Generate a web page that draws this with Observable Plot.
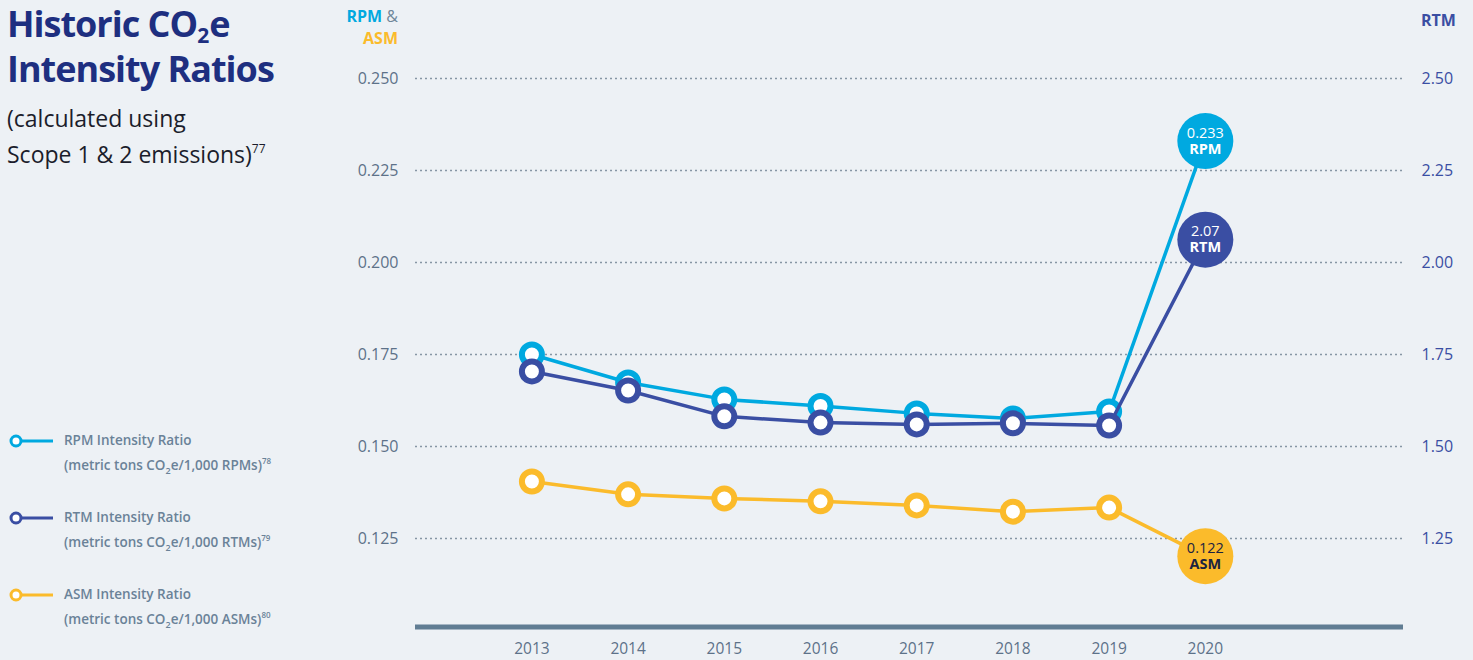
<!DOCTYPE html>
<html><head><meta charset="utf-8">
<script src="https://cdn.jsdelivr.net/npm/d3@7"></script>
<script src="https://cdn.jsdelivr.net/npm/@observablehq/plot@0.6"></script>
<style>
body{margin:0;background:#edf1f5;font-family:"Open Sans",sans-serif;}
#wrap{position:relative;width:1473px;height:660px;overflow:hidden;background:#edf1f5;}
#chart{position:absolute;left:0;top:0;}
.abs{position:absolute;}
#title{left:7px;top:1px;font-size:36px;font-weight:700;color:#1e2f80;line-height:45px;letter-spacing:-1px;white-space:nowrap;}
#title sub{font-size:21px;vertical-align:-6px;line-height:0;letter-spacing:0;}
#subtitle{left:7px;top:100px;font-size:23px;line-height:36px;color:#1b1d2b;white-space:nowrap;}
#subtitle sup{font-size:12px;vertical-align:10px;line-height:0;}
.leg{left:8px;font-size:13.5px;font-weight:600;color:#6a8298;line-height:25px;white-space:nowrap;}
.leg svg{position:absolute;left:0;top:3px;}
.leg .t{margin-left:56px;}
.leg sub{font-size:9px;vertical-align:-4px;line-height:0;}
.leg sup{font-size:8px;vertical-align:6px;line-height:0;}
#hdrL{right:1075px;top:5px;font-size:16px;font-weight:700;line-height:22px;text-align:right;}
#hdrR{left:1421px;top:9px;font-size:16px;font-weight:700;color:#3a4ea3;}
</style></head><body>
<div id="wrap">
<div id="chart"></div>
<div id="title" class="abs">Historic CO<sub>2</sub>e<br>Intensity Ratios</div>
<div id="subtitle" class="abs">(calculated using<br>Scope 1 &amp; 2 emissions)<sup>77</sup></div>
<div id="legend"></div>
<div id="hdrL" class="abs"><span style="color:#00a9e0">RPM</span> <span style="color:#6f8699;font-weight:400">&amp;</span><br><span style="color:#fbbb2b">ASM</span></div>
<div id="hdrR" class="abs">RTM</div>
</div>
<script>
const years = [2013, 2014, 2015, 2016, 2017, 2018, 2019, 2020];
const rpm = [0.1750, 0.1674, 0.1628, 0.1610, 0.1590, 0.1576, 0.1595, 0.2330];
const rtm = [1.704, 1.652, 1.582, 1.565, 1.560, 1.563, 1.557, 2.062];
const asm = [0.1405, 0.1370, 0.1359, 0.1351, 0.1340, 0.1323, 0.1334, 0.1202];
const endLabels = ["0.233", "2.07", "0.122"];
const seriesNames = ["RPM", "RTM", "ASM"];
const seriesColors = ["#00a9e0", "#3a4ea3", "#fbbb2b"];
const endTextColors = ["#ffffff", "#ffffff", "#1b2340"];
const leftTicks = [0.125, 0.150, 0.175, 0.200, 0.225, 0.250];
const legendLines = [
  ["RPM Intensity Ratio", "RPMs", "78"],
  ["RTM Intensity Ratio", "RTMs", "79"],
  ["ASM Intensity Ratio", "ASMs", "80"]
];

const seriesValues = [rpm, rtm, asm];
const scaleFactor = [1, 10, 1];
const rows = [];
seriesNames.forEach((s, k) => {
  years.forEach((yr, i) => rows.push({series: s, k, year: yr, v: seriesValues[k][i] / scaleFactor[k]}));
});
const ends = seriesNames.map((s, k) => ({series: s, k, year: years[years.length - 1],
  v: seriesValues[k][years.length - 1] / scaleFactor[k], label: endLabels[k]}));

const marks = [
  Plot.gridY(leftTicks, {stroke: "#8796a5", strokeOpacity: 1, strokeWidth: 1.5, strokeDasharray: "2,3"}),
  Plot.ruleY([0.1], {stroke: "#617d93", strokeWidth: 5, dy: -3.5}),
  Plot.axisY(leftTicks, {anchor: "left", tickSize: 0, tickPadding: 17, tickFormat: d => d.toFixed(3), label: null, fontSize: 16, color: "#5d7289", fill: "#5d7289"}),
  Plot.axisY(leftTicks, {anchor: "right", tickSize: 0, tickPadding: 18, tickFormat: d => (d * 10).toFixed(2), label: null, fontSize: 16, color: "#3a4ea3", fill: "#3a4ea3"}),
  Plot.axisX(years, {anchor: "bottom", tickSize: 0, tickPadding: 12, tickFormat: d => String(d), label: null, fontSize: 15.5, color: "#5d7289", fill: "#5d7289"})
];
seriesNames.forEach((s, k) => {
  const d = rows.filter(r => r.series === s);
  marks.push(Plot.line(d, {x: "year", y: "v", stroke: seriesColors[k], strokeWidth: 3.5}));
  marks.push(Plot.dot(d.filter(r => r.year < 2020), {x: "year", y: "v", r: 10, fill: "white", stroke: seriesColors[k], strokeWidth: 6}));
});
seriesNames.forEach((s, k) => {
  const e = [ends[k]];
  marks.push(Plot.dot(e, {x: "year", y: "v", r: 28, fill: seriesColors[k]}));
  marks.push(Plot.text(e, {x: "year", y: "v", text: "label", dy: -8, fill: endTextColors[k], fontSize: 14.5}));
  marks.push(Plot.text(e, {x: "year", y: "v", text: "series", dy: 8, fill: endTextColors[k], fontSize: 14.5, fontWeight: "bold"}));
});

const chart = Plot.plot({
  width: 1473, height: 660,
  marginLeft: 415, marginRight: 70, marginTop: 78, marginBottom: 30,
  style: {background: "transparent", fontFamily: "'Open Sans', sans-serif", fontSize: "15px", color: "#5d7289"},
  x: {domain: [2011.79, 2022.06]},
  y: {domain: [0.1, 0.25]},
  marks
});
document.getElementById("chart").appendChild(chart);

const legendTops = [428, 505, 582];
const legend = document.getElementById("legend");
legendLines.forEach((l, k) => {
  const div = document.createElement("div");
  div.className = "abs leg";
  div.style.top = legendTops[k] + "px";
  div.innerHTML = `<svg width="50" height="20"><line x1="12" y1="10" x2="45" y2="10" stroke="${seriesColors[k]}" stroke-width="3"/><circle cx="8" cy="10" r="5" fill="white" stroke="${seriesColors[k]}" stroke-width="3"/></svg>` +
    `<div class="t">${l[0]}</div><div class="t">(metric tons CO<sub>2</sub>e/1,000 ${l[1]})<sup>${l[2]}</sup></div>`;
  legend.appendChild(div);
});
</script>
</body></html>
